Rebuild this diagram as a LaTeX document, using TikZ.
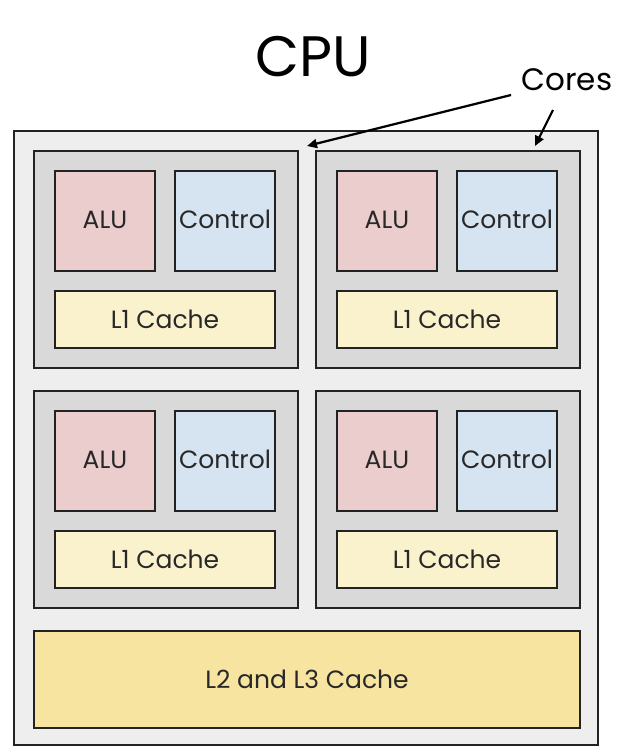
\documentclass[tikz,border=0pt]{standalone}
\usepackage{fontspec}
\setmainfont{Poppins}
\usetikzlibrary{arrows.meta}
\definecolor{cpubg}{RGB}{238,238,238}
\definecolor{corebg}{RGB}{217,217,217}
\definecolor{alubg}{RGB}{236,205,205}
\definecolor{ctrlbg}{RGB}{214,227,241}
\definecolor{lonebg}{RGB}{250,242,205}
\definecolor{ltwobg}{RGB}{246,228,160}
\definecolor{edge}{RGB}{34,34,34}
\definecolor{txt}{RGB}{40,40,40}
\begin{document}
\begin{tikzpicture}[x=1pt,y=-1pt,
  box/.style={draw=edge,line width=2pt,rectangle,inner sep=0pt,text=txt,font=\fontsize{25}{28}\selectfont},
  cpubox/.style={box,fill=cpubg,minimum width=584pt,minimum height=614pt},
  corebox/.style={box,fill=corebg,minimum width=264pt,minimum height=217pt},
  alubox/.style={box,fill=alubg,minimum width=100pt,minimum height=100pt},
  ctrlbox/.style={box,fill=ctrlbg,minimum width=100pt,minimum height=100pt},
  lonebox/.style={box,fill=lonebg,minimum width=220pt,minimum height=57pt},
  ltwobox/.style={box,fill=ltwobg,minimum width=546pt,minimum height=97pt},
  arr/.style={draw=black,line width=2.2pt,-{Triangle[length=10pt,width=9pt]}}]
\useasboundingbox[fill=white] (0,0) rectangle (619,747);
\node[cpubox] (cpu) at (306,438) {};
\node[font=\fontsize{57}{62}\selectfont,text=black] (title) at (313,57) {CPU};
\node[font=\fontsize{31}{34}\selectfont,text=black] (cores) at (567,80) {Cores};
\foreach \n/\dx/\dy in {1/0/0,2/282/0,3/0/240,4/282/240}{
  \node[corebox] (core\n) at (166+\dx,259.5+\dy) {};
  \node[alubox] (alu\n) at (105+\dx,221+\dy) {\raisebox{3pt}{ALU}};
  \node[ctrlbox] (ctrl\n) at (225+\dx,221+\dy) {\raisebox{3pt}{Control}};
  \node[lonebox] (lone\n) at (165+\dx,319.5+\dy) {L1 Cache};
}
\node[ltwobox] (ltwo) at (307,679.5) {L2 and L3 Cache};
\coordinate (s1) at (511,95);
\coordinate (s2) at (553,110);
\draw[arr] (s1) -- ([shift={(8,-4)}]core1.north east);
\draw[arr] (s2) -- ([shift={(-46,-4)}]core2.north east);
\end{tikzpicture}
\end{document}
